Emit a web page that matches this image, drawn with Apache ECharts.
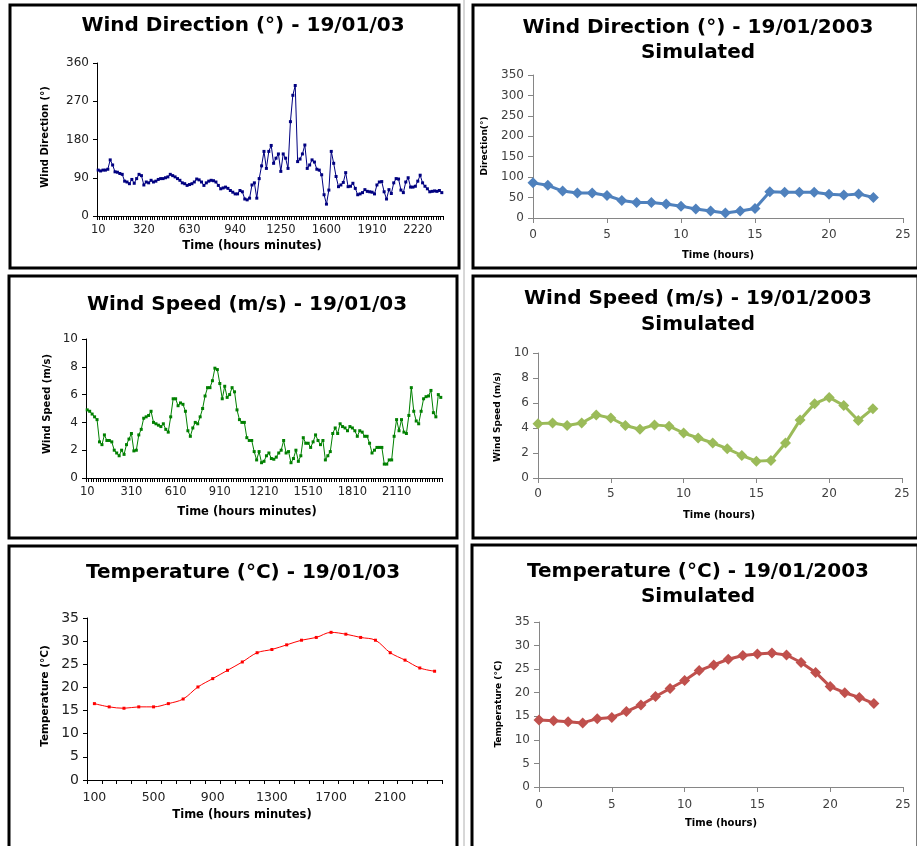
<!DOCTYPE html>
<html>
<head>
<meta charset="utf-8">
<script src="https://cdn.jsdelivr.net/npm/echarts@6/dist/echarts.min.js"></script>
<style>
html,body{margin:0;padding:0;background:#fff;}
#chart{width:917px;height:846px;}
</style>
</head>
<body>
<div id="chart"></div>
<script>
// ---------- DATA ----------
// Observed wind direction (deg), every 10 minutes from 00:10
var windDirObs = [
  108,106,108,108,110,132,120,104,103,100,98,82,80,76,86,77,88,98,95,
  73,80,78,84,80,82,86,88,88,90,92,98,95,92,88,84,78,76,72,
  74,76,80,87,85,80,72,78,82,84,83,80,72,64,66,68,65,60,56,
  52,52,60,57,40,38,42,73,78,42,88,118,152,112,152,166,124,136,146,
  105,146,136,112,222,284,307,128,134,146,167,112,120,132,127,110,108,97,50,
  28,61,152,124,93,69,73,79,102,69,70,77,65,50,52,55,62,58,57,
  56,52,73,80,81,57,40,62,53,78,88,87,61,55,80,90,68,68,70,
  82,96,78,70,64,57,58,59,58,60,55
];
// Observed wind speed (m/s), every 10 minutes from 00:10
var windSpdObs = [
  4.9,4.8,4.6,4.4,4.2,2.6,2.4,3.1,2.7,2.7,2.6,2.0,1.8,1.6,2.0,1.7,2.4,2.8,
  3.2,1.95,2.0,3.1,3.5,4.3,4.4,4.5,4.8,4.0,3.9,3.8,3.7,3.9,3.5,3.3,4.4,5.7,
  5.7,5.2,5.4,5.3,4.8,3.4,3.0,3.6,4.0,3.9,4.4,5.0,5.9,6.5,6.5,7.0,7.9,7.8,
  6.8,5.7,6.6,5.8,6.0,6.5,6.2,4.9,4.2,4.0,4.0,2.9,2.7,2.7,1.9,1.3,1.9,1.1,
  1.2,1.6,1.8,1.4,1.35,1.5,1.8,2.0,2.7,1.8,1.9,1.1,1.4,2.0,1.2,1.6,2.9,2.5,
  2.5,2.2,2.6,3.1,2.7,2.4,2.7,1.3,1.6,1.9,3.2,3.6,3.2,3.9,3.7,3.6,3.4,3.7,
  3.6,3.4,3.0,3.4,3.3,3.0,3.0,2.5,1.8,2.0,2.2,2.2,2.2,1.0,1.0,1.3,1.3,3.0,
  4.2,3.4,4.2,3.3,3.2,4.5,6.5,4.8,4.1,3.9,4.8,5.7,5.85,5.9,6.3,4.7,4.4,6.0,5.8
];
// Observed temperature (C), hourly from 01:00
var tempObs = [16.5,15.8,15.5,15.8,15.8,16.5,17.5,20.1,21.9,23.7,25.5,27.5,28.2,29.2,30.2,30.8,31.9,31.5,30.8,30.2,27.5,25.9,24.2,23.5];

// Simulated, hourly from hour 0
var simHours = [0,1,2,3,4,5,6,7,8,9,10,11,12,13,14,15,16,17,18,19,20,21,22,23];
var windDirSim = [86,80,66,61,61,55,43,38,38,34,29,22,17,12,17,23,64,63,63,63,58,56,59,50];
var windSpdSim = [4.35,4.4,4.2,4.4,5.05,4.8,4.2,3.9,4.25,4.15,3.6,3.2,2.8,2.35,1.8,1.35,1.4,2.8,4.65,5.95,6.45,5.8,4.6,5.55];
var tempSim = [14.2,14.05,13.85,13.6,14.5,14.75,16.0,17.4,19.2,20.9,22.6,24.7,25.9,27.1,27.9,28.2,28.4,28.0,26.4,24.3,21.3,20.0,19.0,17.7];

// Category labels (hours*100 + minutes)
function timeLabels(n, startMin, stepMin) {
  var out = [];
  for (var i = 0; i < n; i++) {
    var m = startMin + i * stepMin;
    out.push(String(Math.floor(m / 60) * 100 + (m % 60)));
  }
  return out;
}
var windDirCats = timeLabels(windDirObs.length, 10, 10);
var windSpdCats = timeLabels(windSpdObs.length, 10, 10);
var tempCats = timeLabels(tempObs.length, 60, 60);

// Titles / axis names
var titles = {
  dirObs: 'Wind Direction (°) - 19/01/03',
  dirSim: ['Wind Direction (°) - 19/01/2003', 'Simulated'],
  spdObs: 'Wind Speed (m/s) - 19/01/03',
  spdSim: ['Wind Speed (m/s) - 19/01/2003', 'Simulated'],
  tmpObs: 'Temperature (°C) - 19/01/03',
  tmpSim: ['Temperature (°C) - 19/01/2003', 'Simulated']
};

// ---------- CHART ----------
var FONT = '"DejaVu Sans", "Liberation Sans", sans-serif';
var chart = echarts.init(document.getElementById('chart'), null, {renderer: 'canvas'});

function pair(xs, ys) { return xs.map(function (x, i) { return [x, ys[i]]; }); }

var grids = [
  {left: 97, top: 63, width: 346, height: 153},   // TL
  {left: 533, top: 75, width: 370, height: 143},  // TR
  {left: 86, top: 339, width: 356, height: 139},  // ML
  {left: 538, top: 353, width: 364, height: 125}, // MR
  {left: 87, top: 618, width: 355, height: 162},  // BL
  {left: 539, top: 622, width: 364, height: 165}  // BR
];

function everyN(n, maxIdx) {
  return function (i) { return i % n === 0 && i < maxIdx; };
}

function obsX(idx, cats, labelEvery, fs, margin) {
  return {
    type: 'category', gridIndex: idx, data: cats, boundaryGap: true,
    axisLine: {lineStyle: {color: '#000', width: 1}},
    axisTick: {show: true, interval: 0, length: 4, lineStyle: {color: '#000', width: 1}},
    axisLabel: {interval: everyN(labelEvery, Math.floor((cats.length - 1) / labelEvery) * labelEvery < cats.length - 1 ? cats.length : cats.length - 1),
                color: '#222', fontFamily: FONT, fontSize: fs, margin: margin},
    splitLine: {show: false}
  };
}
function obsY(idx, max, interval, fs) {
  return {
    type: 'value', gridIndex: idx, min: 0, max: max, interval: interval,
    axisLine: {show: true, lineStyle: {color: '#000', width: 1}},
    axisTick: {show: true, length: 4, lineStyle: {color: '#000'}},
    axisLabel: {color: '#222', fontFamily: FONT, fontSize: fs, margin: 8},
    splitLine: {show: false}
  };
}
function simX(idx, margin) {
  return {
    type: 'value', gridIndex: idx, min: 0, max: 25, interval: 5,
    axisLine: {lineStyle: {color: '#868686', width: 1}},
    axisTick: {show: true, length: 5, lineStyle: {color: '#868686'}},
    axisLabel: {color: '#404040', fontFamily: FONT, fontSize: 12, margin: margin},
    splitLine: {show: false}
  };
}
function simY(idx, max, interval) {
  return {
    type: 'value', gridIndex: idx, min: 0, max: max, interval: interval,
    axisLine: {show: true, lineStyle: {color: '#868686', width: 1}},
    axisTick: {show: true, length: 5, lineStyle: {color: '#868686'}},
    axisLabel: {color: '#404040', fontFamily: FONT, fontSize: 12, margin: 9},
    splitLine: {show: false}
  };
}

function txt(x, y, text, size, opts) {
  opts = opts || {};
  return {
    type: 'text', x: x, y: y, rotation: opts.rot || 0, z: 10,
    style: {
      text: text, fill: opts.color || '#000',
      font: (opts.weight || 'bold') + ' ' + size + 'px ' + FONT,
      align: 'center', verticalAlign: 'middle'
    }
  };
}
function box(x1, y1, x2, y2) {
  return {type: 'rect', z: 1, shape: {x: x1, y: y1, width: x2 - x1, height: y2 - y1},
          style: {fill: 'none', stroke: '#000', lineWidth: 3}};
}
var R = Math.PI / 2;
var graphics = [
  {type: 'line', z: 0, shape: {x1: 464, y1: 0, x2: 464, y2: 846}, style: {stroke: '#b0b0b0', lineWidth: 1}},
  box(10, 5, 459, 268), box(473, 5, 918, 268),
  box(9, 276, 457, 538), box(473, 276, 918, 538),
  box(9, 546, 457, 852), box(472, 545, 918, 852),
  // TL
  txt(243, 26, titles.dirObs, 20),
  txt(45, 137, 'Wind Direction (°)', 10, {rot: R}),
  txt(252, 246, 'Time (hours minutes)', 11.5),
  // TR
  txt(698, 28, titles.dirSim[0], 20), txt(698, 53, titles.dirSim[1], 20),
  txt(485, 146, 'Direction(°)', 9, {rot: R}),
  txt(718, 255, 'Time (hours)', 10),
  // ML
  txt(247, 305, titles.spdObs, 20),
  txt(47, 404, 'Wind Speed (m/s)', 10, {rot: R}),
  txt(247, 512, 'Time (hours minutes)', 11.5),
  // MR
  txt(698, 299, titles.spdSim[0], 20), txt(698, 325, titles.spdSim[1], 20),
  txt(498, 417, 'Wind Speed (m/s)', 9, {rot: R}),
  txt(719, 515, 'Time (hours)', 10),
  // BL
  txt(243, 573, titles.tmpObs, 20),
  txt(45, 696, 'Temperature (°C)', 10.5, {rot: R}),
  txt(242, 815, 'Time (hours minutes)', 11.5),
  // BR
  txt(698, 572, titles.tmpSim[0], 20), txt(698, 597, titles.tmpSim[1], 20),
  txt(499, 704, 'Temperature (°C)', 9, {rot: R}),
  txt(721, 823, 'Time (hours)', 10)
];

function obsSeries(idx, data, color, smooth) {
  return {
    type: 'line', xAxisIndex: idx, yAxisIndex: idx, data: data, smooth: smooth ? 0.35 : false,
    symbol: 'rect', symbolSize: 3, showSymbol: true, showAllSymbol: true,
    lineStyle: {color: color, width: 1}, itemStyle: {color: color},
    animation: false, z: 5
  };
}
function simSeries(idx, data, color) {
  return {
    type: 'line', xAxisIndex: idx, yAxisIndex: idx, data: data, smooth: false,
    symbol: 'diamond', symbolSize: 11, showSymbol: true,
    lineStyle: {color: color, width: 3}, itemStyle: {color: color},
    animation: false, z: 5
  };
}

chart.setOption({
  animation: false,
  backgroundColor: '#fff',
  grid: grids,
  xAxis: [
    obsX(0, windDirCats, 19, 11.5, 8),
    simX(1, 11),
    obsX(2, windSpdCats, 18, 11.5, 8),
    simX(3, 10),
    obsX(4, tempCats, 4, 12.5, 11),
    simX(5, 12)
  ],
  yAxis: [
    obsY(0, 360, 90, 12),
    simY(1, 350, 50),
    obsY(2, 10, 2, 12),
    simY(3, 10, 2),
    obsY(4, 35, 5, 14),
    simY(5, 35, 5)
  ],
  series: [
    obsSeries(0, windDirObs, '#000080', false),
    simSeries(1, pair(simHours, windDirSim), '#4F81BD'),
    obsSeries(2, windSpdObs, '#008000', false),
    simSeries(3, pair(simHours, windSpdSim), '#9BBB59'),
    obsSeries(4, tempObs, '#FF0000', true),
    simSeries(5, pair(simHours, tempSim), '#C0504D')
  ],
  graphic: graphics
});
</script>
</body>
</html>
